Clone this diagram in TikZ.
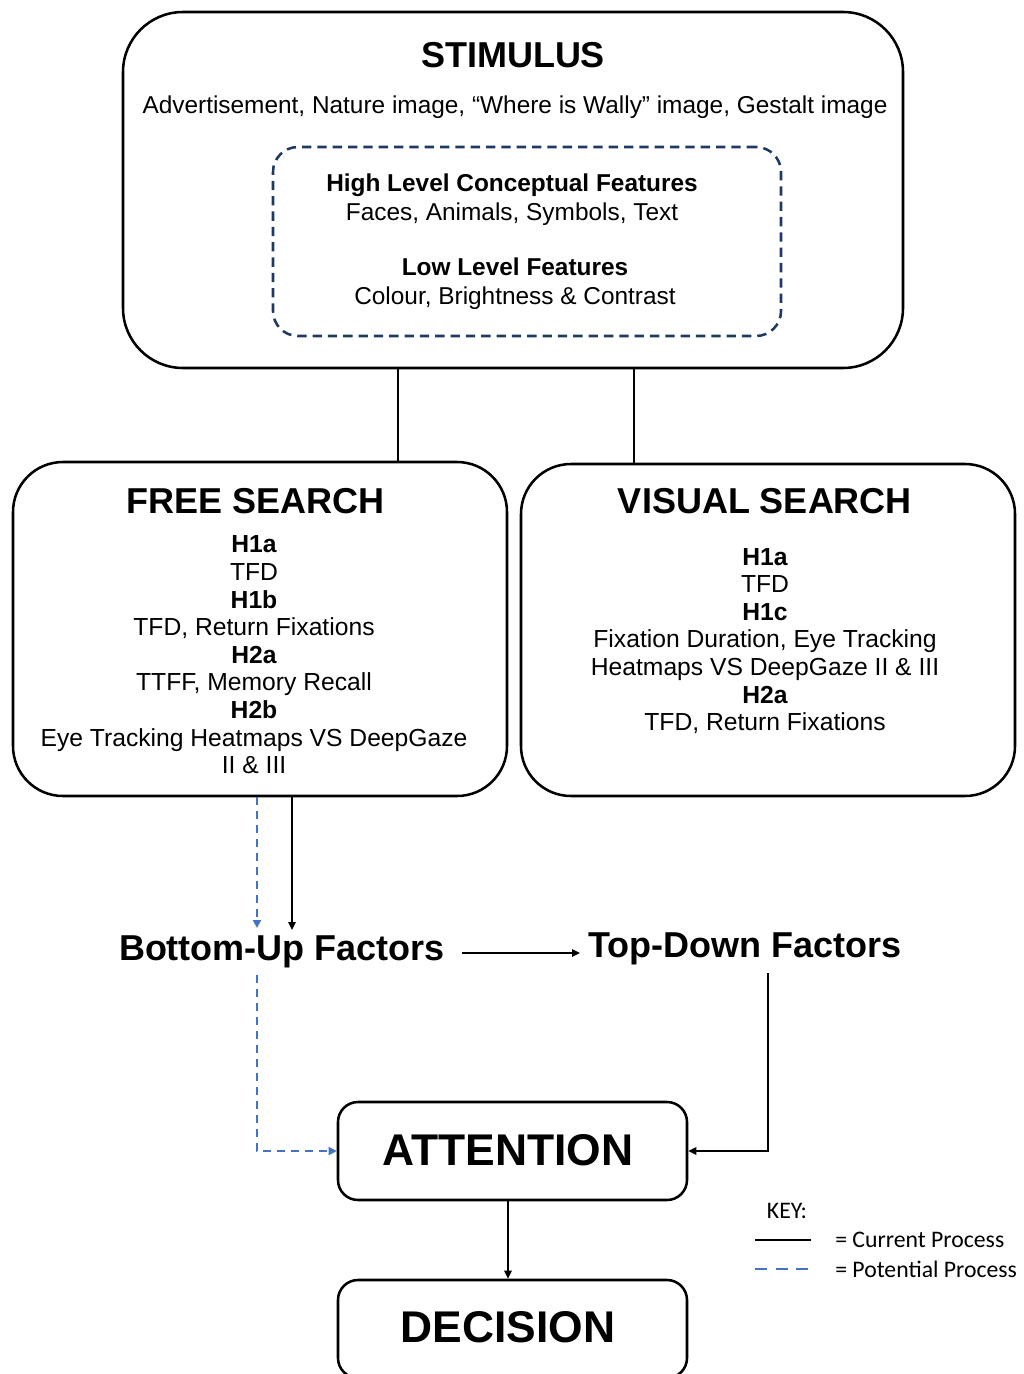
\documentclass[tikz,border=0pt]{standalone}
\usepackage{fontspec}
\setmainfont{Liberation Sans}
\newfontfamily\keyfont{Carlito}
\usetikzlibrary{arrows.meta,calc}
\definecolor{potblue}{HTML}{4472C4}
\definecolor{navy}{HTML}{1F3864}
\begin{document}
\begin{tikzpicture}[x=0.75pt,y=-0.75pt,
  box/.style={draw=black,line width=1.9pt,rounded corners=#1,inner sep=0pt},
  box/.default=37.5pt,
  conn/.style={line width=1.8pt,black},
  arr/.style={conn,-{Triangle[length=6pt,width=5.5pt]}},
  pot/.style={line width=1.8pt,potblue,dash pattern=on 6pt off 4.5pt},
  potarr/.style={pot,-{Triangle[length=6pt,width=6pt]}},
  titlefont/.style={font=\fontsize{27}{30}\selectfont\bfseries},
  bigfont/.style={font=\fontsize{33.3}{36}\selectfont\bfseries},
  bodyfont/.style={font=\fontsize{18.5}{20.7}\selectfont},
  featfont/.style={font=\fontsize{18.3}{21.75}\selectfont},
  txt/.style={inner sep=0pt,align=center}
]
\useasboundingbox (0,0) rectangle (1024,1374);

% ---------- STIMULUS ----------
\node[box=45pt,minimum width=585pt,minimum height=267pt] (stim) at (513,190) {};
\node[txt,titlefont] (stimtitle) at (513,55) {STIMULUS};
\node[txt,featfont] (stimtext) at (515,107) {Advertisement, Nature image, “Where is Wally” image, Gestalt image};
\node[draw=navy,line width=1.9pt,dash pattern=on 7pt off 4.5pt,rounded corners=18.75pt,
      minimum width=381pt,minimum height=141.75pt,inner sep=0pt] (feat) at (527,241.5) {};
\node[txt,featfont] (hl) at (512,200) {\textbf{High Level Conceptual Features}\\Faces, Animals, Symbols, Text};
\node[txt,featfont] (ll) at (515,284) {\textbf{Low Level Features}\\Colour, Brightness \& Contrast};

% ---------- SEARCH BOXES ----------
\node[box,minimum width=370.5pt,minimum height=250.5pt] (free) at (260,629) {};
\node[box,minimum width=370.5pt,minimum height=249pt] (visual) at (768,630) {};
\node[txt,titlefont] (freetitle) at (256,501) {FREE SEARCH};
\node[txt,titlefont] (vistitle) at (765,501) {VISUAL SEARCH};
\node[txt,bodyfont] (freetext) at (254,655) {\textbf{H1a}\\TFD\\\textbf{H1b}\\TFD, Return Fixations\\\textbf{H2a}\\TTFF, Memory Recall\\\textbf{H2b}\\Eye Tracking Heatmaps VS DeepGaze\\II \& III};
\node[txt,bodyfont] (vistext) at (765,641) {\textbf{H1a}\\TFD\\\textbf{H1c}\\Fixation Duration, Eye Tracking\\Heatmaps VS DeepGaze II \& III\\\textbf{H2a}\\TFD, Return Fixations};

\coordinate (cA) at (398,0);
\coordinate (cB) at (634,0);
\draw[conn] (stim.south -| cA) -- (free.north -| cA);
\draw[conn] (stim.south -| cB) -- (visual.north -| cB);

% ---------- FACTORS ----------
\node[txt,titlefont] (bu) at (282,952) {Bottom-Up Factors};
\node[txt,titlefont] (td) at (745,949) {Top-Down Factors};

\coordinate (solidX) at (292,930);
\coordinate (potX) at (257,928);
\coordinate (potRestart) at (257,975);
\coordinate (buR) at (462,953);
\coordinate (tdL) at (580,953);
\coordinate (tdB) at (768,973);

\draw[arr] (free.south -| solidX) -- (solidX);
\draw[potarr] (free.south -| potX) -- (potX);
\draw[arr] (buR) -- (tdL);

% ---------- ATTENTION / DECISION ----------
\node[box=15pt,minimum width=261.75pt,minimum height=73.5pt] (att) at (512.5,1151) {};
\node[txt,bigfont] (atttext) at (508,1150) {ATTENTION};
\node[box=15pt,minimum width=261.75pt,minimum height=73.5pt] (dec) at (512.5,1329) {};
\node[txt,bigfont] (dectext) at (508,1327) {DECISION};

\draw[potarr] (potRestart) |- (att.west);
\draw[arr] (tdB) |- (att.east);
\draw[arr] (att.south -| atttext) -- (dec.north -| atttext);

% ---------- KEY ----------
\node[txt,font=\keyfont\fontsize{17.8}{20}\selectfont] (key) at (787,1211) {KEY:};
\coordinate (k1a) at (755,1240);
\coordinate (k1b) at (811,1240);
\coordinate (k2a) at (755,1269);
\coordinate (k2b) at (811,1269);
\draw[conn] (k1a) -- (k1b);
\draw[line width=1.8pt,potblue,dash pattern=on 9pt off 6.5pt] (k2a) -- (k2b);
\node[txt,anchor=west,font=\keyfont\fontsize{17.8}{20}\selectfont] (kcur) at (835,1240) {= Current Process};
\node[txt,anchor=west,font=\keyfont\fontsize{17.8}{20}\selectfont] (kpot) at (835,1269) {= Potential Process};
\end{tikzpicture}
\end{document}
